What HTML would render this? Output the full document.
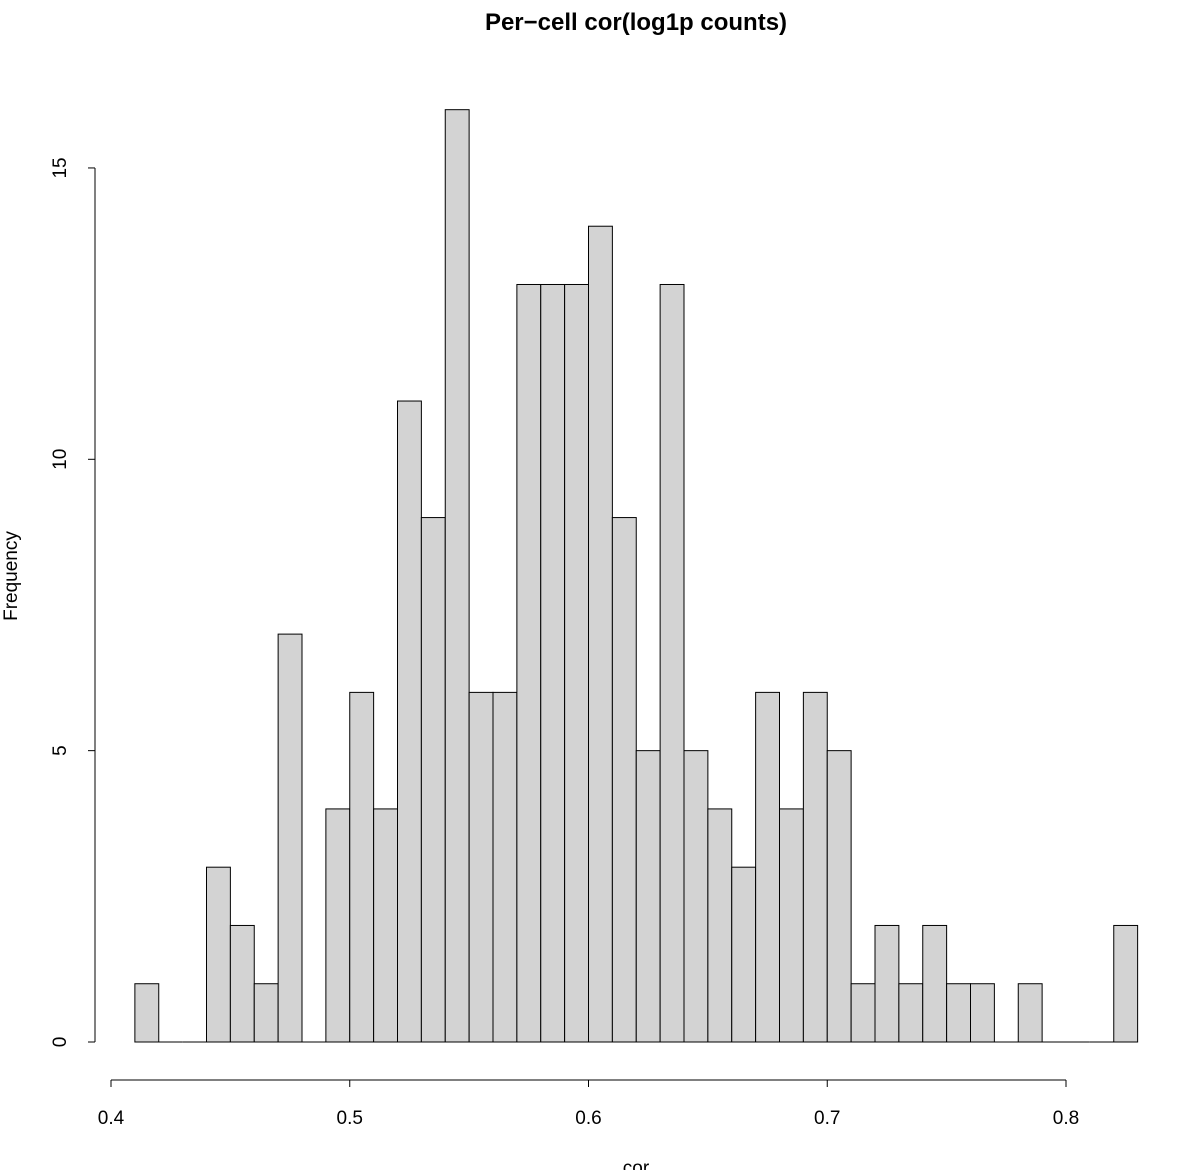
<!DOCTYPE html>
<html><head><meta charset="utf-8"><style>
html,body{margin:0;padding:0;background:#fff;}
svg{display:block;font-family:"Liberation Sans",sans-serif;}
</style></head><body>
<svg id="s" width="1189" height="1170" viewBox="0 0 1189 1170" xmlns="http://www.w3.org/2000/svg">
<rect width="1189" height="1170" fill="#fff"/>
<text x="636" y="30" font-size="24" font-weight="bold" text-anchor="middle">Per−cell cor(log1p counts)</text>
<text x="636" y="1174" font-size="19" text-anchor="middle">cor</text>
<text transform="translate(17,576) rotate(-90)" font-size="19" text-anchor="middle">Frequency</text>
<g id="bars" fill="#d3d3d3" stroke="#000" stroke-width="1"></g>
<g stroke="#000" stroke-width="1" fill="none">
<line x1="95" y1="1042" x2="95" y2="168"/>
<line x1="111" y1="1080" x2="1066" y2="1080"/>
</g>
<g id="ticks" stroke="#000" stroke-width="1"></g>
<g id="labels" font-size="19"></g>
</svg>
<script>
var c=[1,0,0,3,2,1,7,0,4,6,4,11,9,16,6,6,13,13,13,14,9,5,13,5,4,3,6,4,6,5,1,2,1,2,1,1,0,1,0,0,0,2];
var ns="http://www.w3.org/2000/svg",b=document.getElementById("bars"),t=document.getElementById("ticks"),l=document.getElementById("labels");
var y0=1042,u=58.27,bw=23.875;
function el(p,n,a,txt){var e=document.createElementNS(ns,n);for(var k in a)e.setAttribute(k,a[k]);if(txt)e.textContent=txt;p.appendChild(e);}
c.forEach(function(v,k){var x=134.875+bw*k;if(v>0)el(b,"rect",{x:x,y:y0-v*u,width:bw,height:v*u});else el(b,"line",{x1:x,y1:y0,x2:x+bw,y2:y0});});
[0,5,10,15].forEach(function(v){var y=y0-v*u;el(t,"line",{x1:88,y1:y,x2:95,y2:y});el(l,"text",{transform:"translate(66,"+y+") rotate(-90)","text-anchor":"middle"},String(v));});
["0.4","0.5","0.6","0.7","0.8"].forEach(function(s,i){var x=111+238.75*i;el(t,"line",{x1:x,y1:1080,x2:x,y2:1087});el(l,"text",{x:x,y:1124,"text-anchor":"middle"},s);});
</script>
</body></html>
